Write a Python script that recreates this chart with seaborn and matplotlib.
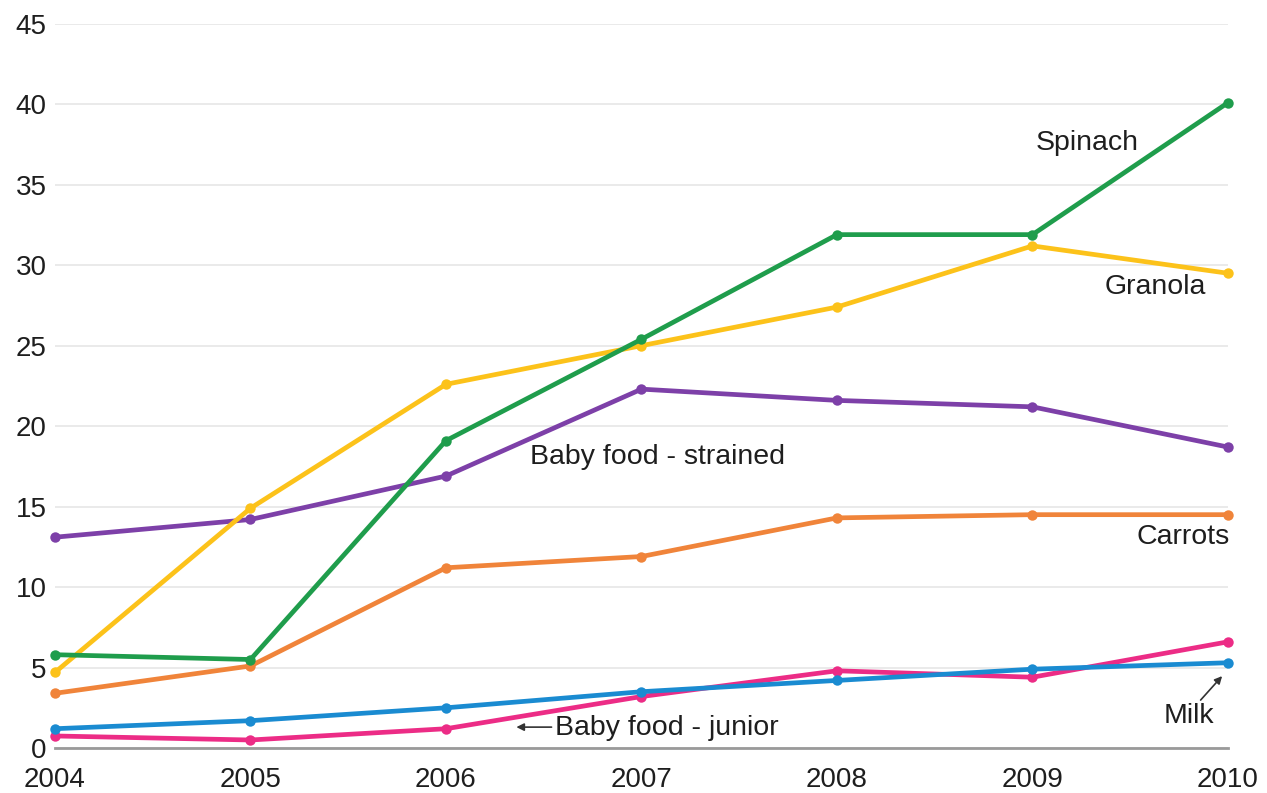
import matplotlib
matplotlib.use("Agg")
import matplotlib.pyplot as plt
import seaborn as sns
import pandas as pd

years = [2004, 2005, 2006, 2007, 2008, 2009, 2010]
spinach = [5.8, 5.5, 19.1, 25.4, 31.9, 31.9, 40.1]
granola = [4.7, 14.9, 22.6, 25.0, 27.4, 31.2, 29.5]
baby_strained = [13.1, 14.2, 16.9, 22.3, 21.6, 21.2, 18.7]
carrots = [3.4, 5.1, 11.2, 11.9, 14.3, 14.5, 14.5]
milk = [1.2, 1.7, 2.5, 3.5, 4.2, 4.9, 5.3]
baby_junior = [0.75, 0.5, 1.2, 3.2, 4.8, 4.4, 6.6]

series = {
    "Baby food - junior": baby_junior,
    "Milk": milk,
    "Carrots": carrots,
    "Baby food - strained": baby_strained,
    "Granola": granola,
    "Spinach": spinach,
}
colors = {
    "Baby food - junior": "#ec2c86",
    "Milk": "#1a8bd1",
    "Carrots": "#f0843a",
    "Baby food - strained": "#7d40a8",
    "Granola": "#fcc21a",
    "Spinach": "#1f9d4c",
}

rows = []
for name, vals in series.items():
    for y, v in zip(years, vals):
        rows.append({"year": y, "value": v, "series": name})
df = pd.DataFrame(rows)

sns.set_theme(style="white")
plt.rcParams["font.family"] = ["Liberation Sans", "DejaVu Sans"]

fig = plt.figure(figsize=(12.67, 7.93), dpi=100)
ax = fig.add_axes([0.0434, 0.0567, 0.9258, 0.9133])

sns.lineplot(data=df, x="year", y="value", hue="series", palette=colors,
             hue_order=list(series.keys()), linewidth=3.4, marker="o",
             markersize=7.5, markeredgewidth=0, ax=ax, legend=False)
for line in ax.lines:
    line.set_clip_on(False)

ax.set_xlim(2004, 2010)
ax.set_ylim(0, 45)
ax.set_yticks(range(0, 46, 5))
ax.set_xticks(years)
ax.set_xticklabels([str(y) for y in years])
ax.set_xlabel("")
ax.set_ylabel("")
ax.grid(axis="y", color="#e6e6e6", linewidth=1.2)
ax.set_axisbelow(True)
for s in ["top", "right", "left"]:
    ax.spines[s].set_visible(False)
ax.spines["bottom"].set_color("#9a9a9a")
ax.spines["bottom"].set_linewidth(2)
ax.tick_params(axis="y", length=0, labelsize=20, pad=6, colors="#1e1e1e")
ax.tick_params(axis="x", length=4, width=1, color="#9a9a9a", direction="in",
               labelsize=20, pad=14, colors="#1e1e1e")

fs = 20.5
tc = "#1e1e1e"
ax.text(2009.28, 37.6, "Spinach", fontsize=fs, color=tc, ha="center", va="center")
ax.text(2009.63, 28.65, "Granola", fontsize=fs, color=tc, ha="center", va="center")
ax.text(2007.08, 18.1, "Baby food - strained", fontsize=fs, color=tc, ha="center", va="center")
ax.text(2009.77, 13.1, "Carrots", fontsize=fs, color=tc, ha="center", va="center")
ax.text(2009.8, 2.0, "Milk", fontsize=fs, color=tc, ha="center", va="center")
ax.annotate("", xy=(2009.97, 4.47), xytext=(2009.86, 2.98),
            arrowprops=dict(arrowstyle="-|>", color="#333333", lw=1.2, shrinkA=0,
                            shrinkB=0, mutation_scale=11))
ax.text(2006.56, 1.24, "Baby food - junior", fontsize=fs, color=tc, ha="left", va="center")
ax.annotate("", xy=(2006.36, 1.3), xytext=(2006.54, 1.3),
            arrowprops=dict(arrowstyle="-|>", color="#333333", lw=1.2, shrinkA=0,
                            shrinkB=0, mutation_scale=11))

fig.savefig("out.png", dpi=100)
